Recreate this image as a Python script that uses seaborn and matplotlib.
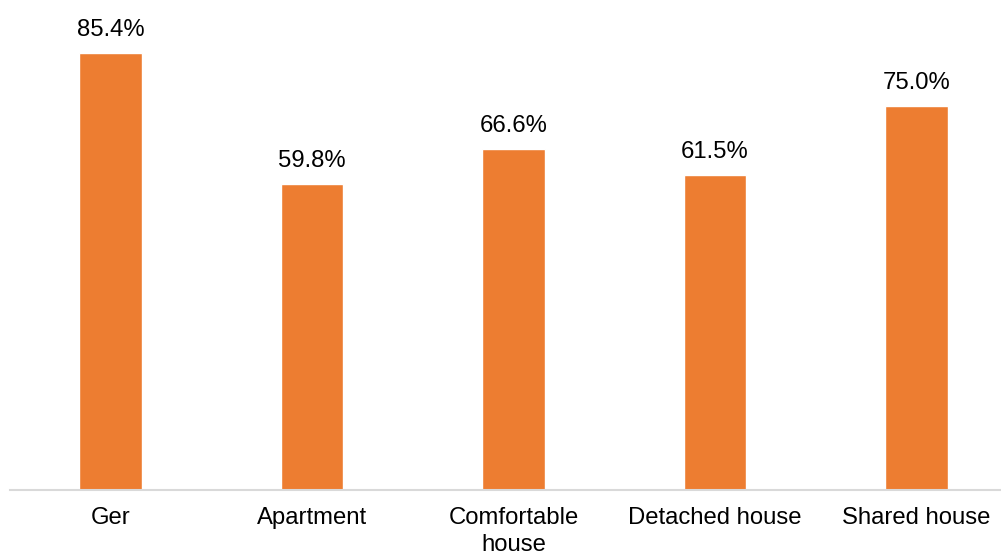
import matplotlib
matplotlib.use("Agg")
import matplotlib.pyplot as plt
import seaborn as sns
import pandas as pd

categories = ["Ger", "Apartment", "Comfortable\nhouse", "Detached house", "Shared house"]
values = [85.4, 59.8, 66.6, 61.5, 75.0]
bar_color = "#ED7D31"

sns.set_theme(style="white")
plt.rcParams["font.family"] = ["Liberation Sans", "DejaVu Sans"]

df = pd.DataFrame({"category": categories, "value": values})

fig = plt.figure(figsize=(10.01, 5.56), dpi=100)
ax = fig.add_axes([10 / 1001, 66 / 556, 1 - 10 / 1001, 1 - 66 / 556])

sns.barplot(data=df, x="category", y="value", color=bar_color, width=0.31,
            saturation=1, ax=ax)

ax.set_xlim(-0.5, 4.42)
ax.set_ylim(0, 95.8)

for i, v in enumerate(values):
    ax.annotate(f"{v:.1f}%", xy=(i, v), xytext=(0, 12.5), textcoords="offset points",
                ha="center", va="baseline", fontsize=17.2, color="#000000")

ax.set_xlabel("")
ax.set_ylabel("")
ax.set_yticks([])
for side in ["top", "right", "left"]:
    ax.spines[side].set_visible(False)
ax.spines["bottom"].set_color("#D9D9D9")
ax.spines["bottom"].set_linewidth(1.5)
ax.tick_params(axis="x", length=0, pad=12.5, labelsize=17.2, colors="#000000")
for lbl in ax.get_xticklabels():
    lbl.set_linespacing(1.25)

fig.savefig("out.png", dpi=100, facecolor="white")
